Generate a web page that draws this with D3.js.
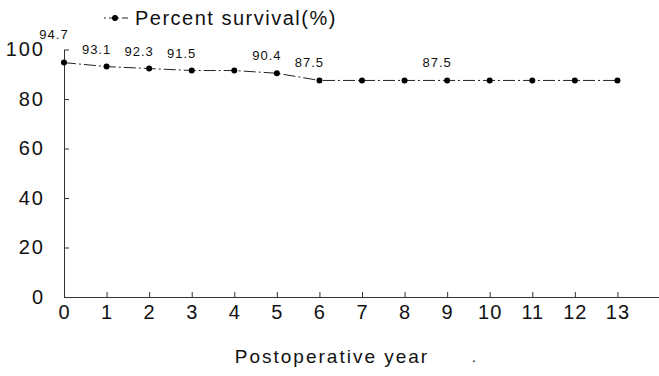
<!DOCTYPE html>
<html>
<head>
<meta charset="utf-8">
<script src="https://cdn.jsdelivr.net/npm/d3@7"></script>
<style>
  body { margin: 0; background: #fff; }
  text { font-family: "Liberation Sans", Arial, sans-serif; fill: #111; }
</style>
</head>
<body>
<script>
// survival by postoperative year
var years = [0, 1, 2, 3, 4, 5, 6, 7, 8, 9, 10, 11, 12, 13];
var survival = [94.7, 93.1, 92.3, 91.5, 91.5, 90.4, 87.5, 87.5, 87.5, 87.5, 87.5, 87.5, 87.5, 87.5];
// which points get a value label
var labelled = [0, 1, 2, 3, 5, 6, 9];
var yTicks = [0, 20, 40, 60, 80, 100];
var seriesName = "Percent survival(%)";
var xTitle = "Postoperative year";

var w = 659, h = 376;

var svg = d3.select("body").append("svg")
    .attr("width", w)
    .attr("height", h);

var x = d3.scaleLinear().domain([0, 14]).range([64, 660]);
var y = d3.scaleLinear().domain([0, 100]).range([297, 49.5]);

// axes, ticks pointing inward
var xAxis = svg.append("g")
    .attr("transform", "translate(0," + y(0) + ")")
    .call(d3.axisBottom(x).tickValues(years).tickSizeInner(-5).tickSizeOuter(0).tickPadding(8));
xAxis.selectAll("text").attr("font-size", 20).attr("dy", "0.71em").attr("letter-spacing", 1);

var yAxis = svg.append("g")
    .attr("transform", "translate(" + x(0) + ",0)")
    .call(d3.axisLeft(y).tickValues(yTicks).tickSizeInner(-5).tickSizeOuter(0).tickPadding(19));
yAxis.selectAll("text").attr("font-size", 20).attr("letter-spacing", 2);

svg.selectAll(".domain, .tick line").attr("stroke", "#333").attr("stroke-width", 1);

// series line
var data = years.map(function(d, i) { return {yr: d, val: survival[i]}; });
var line = d3.line()
    .x(function(d) { return x(d.yr); })
    .y(function(d) { return y(d.val); });

svg.append("path")
    .datum(data)
    .attr("fill", "none")
    .attr("stroke", "#222")
    .attr("stroke-width", 1)
    .attr("stroke-dasharray", "12,3,2,3")
    .attr("d", line);

svg.selectAll("circle.pt")
    .data(data)
  .enter().append("circle")
    .attr("class", "pt")
    .attr("cx", function(d) { return x(d.yr); })
    .attr("cy", function(d) { return y(d.val); })
    .attr("r", 3)
    .attr("fill", "#000");

svg.selectAll("text.val")
    .data(data.filter(function(d) { return labelled.indexOf(d.yr) >= 0; }))
  .enter().append("text")
    .attr("class", "val")
    .attr("font-size", 13)
    .attr("letter-spacing", 1)
    .attr("text-anchor", "middle")
    .attr("x", function(d) { return x(d.yr) - (d.yr === 0 ? 10 : 10); })
    .attr("y", function(d) { return y(d.val) - (d.yr === 0 ? 24 : 13); })
    .text(function(d) { return d.val.toFixed(1); });

// legend
var lg = svg.append("g").attr("transform", "translate(104,18)");
lg.append("line").attr("x1", 0).attr("x2", 26).attr("y1", 0).attr("y2", 0)
    .attr("stroke", "#222").attr("stroke-dasharray", "2,3,6,2");
lg.append("circle").attr("cx", 11).attr("cy", 0).attr("r", 3).attr("fill", "#000");
lg.append("text").attr("x", 31).attr("y", 7)
    .attr("font-size", 20).attr("letter-spacing", 1.5)
    .text(seriesName);

// x title
svg.append("text")
    .attr("x", 332).attr("y", 363)
    .attr("text-anchor", "middle")
    .attr("font-size", 19).attr("letter-spacing", 2)
    .text(xTitle);
svg.append("text").attr("x", 472).attr("y", 362).attr("font-size", 14).text(".");
</script>
</body>
</html>
